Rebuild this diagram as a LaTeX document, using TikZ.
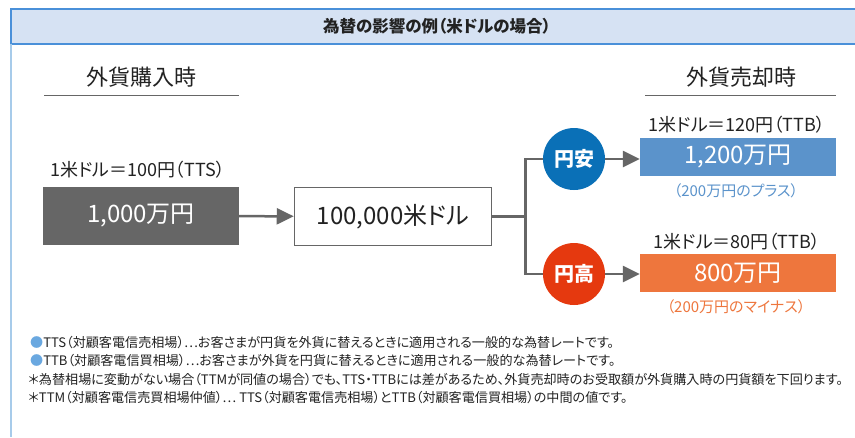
\documentclass[tikz,border=0pt]{standalone}
\usepackage{fontspec}
\setmainfont{Noto Sans CJK JP}[RawFeature=+palt]
\usetikzlibrary{arrows.meta}
\definecolor{headfill}{HTML}{D6E2F3}
\definecolor{headline}{HTML}{4A90D9}
\definecolor{sideline}{HTML}{A7CBEA}
\definecolor{linegray}{HTML}{666666}
\definecolor{boxgray}{HTML}{666666}
\definecolor{txt}{HTML}{222222}
\definecolor{yasublue}{HTML}{0A70B7}
\definecolor{takared}{HTML}{E5390F}
\definecolor{plusblue}{HTML}{5B93CB}
\definecolor{minusorange}{HTML}{EE763D}
\definecolor{dotblue}{HTML}{6AA8E0}
\begin{document}
\begin{tikzpicture}[x=1pt,y=-1pt,
          conn/.style={draw=linegray,line width=2.5pt},
          arr/.style={conn,-{Triangle[length=17pt,width=16pt]}},
          head/.style={text=txt,font=\fontsize{22}{26}\selectfont},
          rate/.style={text=txt,font=\fontsize{18}{21}\selectfont},
          valbox/.style={text=white,minimum width=196pt,inner sep=0pt,font=\fontsize{24}{28}\selectfont},
          badge/.style={circle,text=white,minimum size=62pt,inner sep=0pt,font=\bfseries\fontsize{20}{24}\selectfont},
          diff/.style={font=\fontsize{15}{18}\selectfont},
          note/.style={anchor=west,text=txt,inner sep=0pt,font=\fontsize{13.1}{16}\selectfont}
          ]
          \useasboundingbox (0,0) rectangle (855,437);
          \fill[white] (0,0) rectangle (855,437);
          \fill[headfill] (11,9) rectangle (855,44);
          \draw[headline,line width=1.5pt] (855,9) -- (11,9) -- (11,44) -- (855,44);
          \draw[sideline,line width=1.5pt] (11,44) -- (11,437);
          \node[text=txt,font=\bfseries\fontsize{16.5}{20}\selectfont] (title) at (437,26) {為替の影響の例（米ドルの場合）};
          \node[head] (buy) at (141,77.5) {外貨購入時};
          \node[head] (sell) at (741,77.5) {外貨売却時};
          \draw[linegray,line width=1pt] (44,95) -- (239,95);
          \draw[linegray,line width=1pt] (645,95) -- (836,95);
          \node[rate,anchor=west,inner sep=0pt] (r100) at (50,170) {1米ドル＝100円（TTS）};
          \node[valbox,fill=boxgray,minimum height=58pt] (yen) at (141,216) {1,000万円};
          \node[valbox,draw=linegray,line width=1.5pt,text=txt,minimum width=197pt,minimum height=58pt] (usd) at (393,216.5) {100,000米ドル};
          \draw[arr] (yen) -- (usd);
          \node[badge,fill=yasublue] (yasu) at (574,159) {円安};
          \node[badge,fill=takared] (taka) at (574,274) {円高};
          \coordinate (fork) at (525.5,216.5);
          \draw[conn] (usd.east) -- (fork) |- (yasu);
          \draw[conn] (fork) |- (taka);
          \node[valbox,fill=plusblue,minimum height=38pt] (plus) at (738,157) {1,200万円};
          \node[valbox,fill=minusorange,minimum height=38pt] (minus) at (738,273) {800万円};
          \draw[arr] (yasu) -- (yasu -| plus.west);
          \draw[arr] (taka) -- (taka -| minus.west);
          \node[rate] (r120) at (737,125) {1米ドル＝120円（TTB）};
          \node[rate] (r80) at (737,242) {1米ドル＝80円（TTB）};
          \node[diff,text=plusblue] (pluslbl) at (736,191) {（200万円のプラス）};
          \node[diff,text=minusorange] (minuslbl) at (736,307) {（200万円のマイナス）};
          \node[note] (tts) at (30,343) {\textcolor{dotblue}{●}TTS（対顧客電信売相場）⋯お客さまが円貨を外貨に替えるときに適用される一般的な為替レートです。};
          \node[note] (ttb) at (30,361) {\textcolor{dotblue}{●}TTB（対顧客電信買相場）⋯お客さまが外貨を円貨に替えるときに適用される一般的な為替レートです。};
          \node[note] (star1) at (28,380) {＊為替相場に変動がない場合（TTMが同値の場合）でも、TTS・TTBには差があるため、外貨売却時のお受取額が外貨購入時の円貨額を下回ります。};
          \node[note] (star2) at (28,398) {＊TTM（対顧客電信売買相場仲値）⋯ TTS（対顧客電信売相場）とTTB（対顧客電信買相場）の中間の値です。};
        \end{tikzpicture}
\end{document}
